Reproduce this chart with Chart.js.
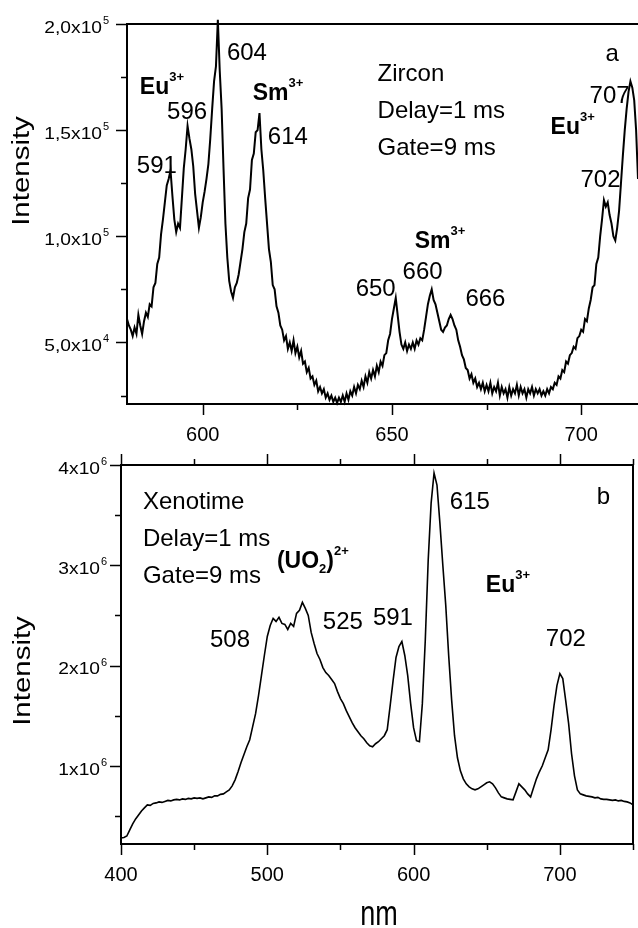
<!DOCTYPE html>
<html>
<head>
<meta charset="utf-8">
<script src="https://cdn.jsdelivr.net/npm/chart.js@4.4.0/dist/chart.umd.min.js"></script>
<style>
  html, body { margin: 0; padding: 0; background: #fff; }
  #wrap { position: relative; width: 638px; height: 928px; overflow: hidden; }
  canvas { position: absolute; left: 0; }
  #zircon { top: 0; }
  #xenotime { top: 440px; }
</style>
</head>
<body>
<div id="wrap">
  <canvas id="zircon" width="638" height="460"></canvas>
  <canvas id="xenotime" width="638" height="488"></canvas>
</div>
<script>
// Panel a - zircon, one reading every 0.5 nm starting at 580 nm, intensity in 10^3
const zirconStart = 580;
const zirconStep = 0.5;
const zirconIntensity = [
    61, 58, 56, 53, 57, 54, 63, 58, 54, 60,               // 580
    64, 62, 68, 67, 76, 78, 87, 90, 101, 108,             // 585
    116, 124, 127, 131, 119, 108, 102, 106, 104, 118,     // 590
    132, 141, 152, 146, 141, 133, 120, 112, 104, 109,     // 595
    116, 121, 127, 134, 146, 160, 173, 180, 202, 178,     // 600
    160, 132, 106, 90, 79, 74, 71, 76, 78, 82,            // 605
    88, 94, 102, 106, 118, 122, 136, 139, 149, 150,       // 610
    158, 141, 131, 118, 106, 94, 88, 77, 75, 67,          // 615
    64, 58, 56, 51, 53, 47, 50, 46, 51, 45,               // 620
    48, 43, 46, 40, 41, 36, 38, 33, 34, 30,               // 625
    32, 27, 29, 26, 28, 24, 26, 23, 25, 22,               // 630
    24, 21.5, 24, 22, 25, 22, 26, 23, 27, 25,             // 635
    29, 26, 30, 28, 32, 29, 34, 31, 36, 33,               // 640
    37, 34, 39, 36, 41, 39, 44, 45, 51, 54,               // 645
    61, 66, 71, 63, 55, 49, 47, 50, 46, 49,               // 650
    47, 50, 47, 51, 49, 52, 51, 56, 62, 68,               // 655
    72, 75, 70, 68, 64, 60, 56, 55, 57, 58,               // 660
    61, 63, 61, 58, 56, 51, 48, 44, 42, 38,               // 665
    37, 33, 35, 31, 33, 29, 31, 28, 31, 27,               // 670
    30, 27, 31, 26, 29, 27, 31, 25, 29, 26,               // 675
    28, 24, 29, 25, 28, 26, 30, 25, 29, 26,               // 680
    28, 24, 28, 26, 29, 25, 28, 26, 28, 25,               // 685
    27, 25, 28, 26, 29, 28, 31, 30, 34, 33,               // 690
    37, 36, 41, 40, 44, 45, 48, 47, 52, 53,               // 695
    56, 55, 61, 60, 66, 70, 76, 77, 87, 90,               // 700
    100, 108, 117, 114, 116, 110, 106, 100, 98, 104,      // 705
    112, 125, 138, 150, 160, 168, 173, 170, 164, 150,     // 710
    127
];

// Panel b - xenotime, one reading every 2 nm starting at 400 nm, intensity in 10^6
const xenotimeStart = 400;
const xenotimeStep = 2;
const xenotimeIntensity = [
    0.28, 0.285, 0.30, 0.36, 0.42, 0.47, 0.51, 0.55, 0.58, 0.61,        // 400-418
    0.605, 0.625, 0.63, 0.64, 0.635, 0.645, 0.655, 0.65, 0.66, 0.665,
    0.66, 0.67, 0.665, 0.675, 0.67, 0.68, 0.675, 0.68, 0.67, 0.68,      // 440-458
    0.69, 0.685, 0.70, 0.70, 0.715, 0.72, 0.74, 0.76, 0.80, 0.86,
    0.94, 1.03, 1.11, 1.19, 1.26, 1.39, 1.52, 1.70, 1.90, 2.10,         // 480-498
    2.29, 2.40, 2.47, 2.44, 2.48, 2.42, 2.41, 2.36, 2.42, 2.39,
    2.52, 2.55, 2.63, 2.57, 2.50, 2.33, 2.22, 2.12, 2.06, 1.98,         // 520-538
    1.93, 1.90, 1.86, 1.82, 1.74, 1.67, 1.62, 1.55, 1.49, 1.43,
    1.38, 1.34, 1.30, 1.27, 1.23, 1.20, 1.19, 1.22, 1.24, 1.27,         // 560-578
    1.30, 1.36, 1.60, 1.85, 2.08, 2.19, 2.24, 2.10, 1.90, 1.62,
    1.38, 1.25, 1.24, 1.62, 2.25, 3.05, 3.62, 3.92, 3.80, 3.42,         // 600-618
    3.00, 2.60, 2.10, 1.66, 1.30, 1.08, 0.95, 0.87, 0.82, 0.79,
    0.77, 0.76, 0.77, 0.79, 0.81, 0.83, 0.84, 0.82, 0.78, 0.73,         // 640-658
    0.69, 0.68, 0.67, 0.665, 0.66, 0.74, 0.82, 0.79, 0.76, 0.72,
    0.69, 0.78, 0.87, 0.94, 1.00, 1.08, 1.16, 1.36, 1.60, 1.80,         // 680-698
    1.92, 1.87, 1.65, 1.42, 1.12, 0.90, 0.76, 0.72, 0.71, 0.70,
    0.695, 0.69, 0.68, 0.685, 0.67, 0.665, 0.665, 0.66, 0.655, 0.66,    // 720-738
    0.65, 0.655, 0.645, 0.64, 0.63, 0.61
];

// axis ticks
const zirconXTicks = [600, 650, 700];
const zirconXMinor = [625, 675];
const zirconYTicks = [50, 100, 150, 200];
const zirconYMinor = [25, 75, 125, 175];
const zirconYTickText = ['5,0x10', '1,0x10', '1,5x10', '2,0x10'];
const zirconYTickExp = ['4', '5', '5', '5'];

const xenotimeXTicks = [400, 500, 600, 700];
const xenotimeXMinor = [450, 550, 650, 750];
const xenotimeYTicks = [1, 2, 3, 4];
const xenotimeYMinor = [0.5, 1.5, 2.5, 3.5];
const xenotimeYTickText = ['1x10', '2x10', '3x10', '4x10'];
const xenotimeYTickExp = ['6', '6', '6', '6'];

const FONT = '"Liberation Sans", Arial, Helvetica, sans-serif';
const NOTE = '24px ' + FONT;
const BOLD = 'bold 23px ' + FONT;
const SMALL = 'bold 13px ' + FONT;

function ion(name) {
    return [{ text: name, font: BOLD }, { text: '3+', font: SMALL, dy: -10 }];
}

// peak labels, placed in data coordinates (nm, intensity)
const zirconNotes = [
    { x: 583.4, y: 170.0, parts: ion('Eu') },
    { x: 590.6, y: 158.3, text: '596' },
    { x: 582.6, y: 133.0, text: '591' },
    { x: 606.4, y: 186.3, text: '604' },
    { x: 613.2, y: 167.2, parts: ion('Sm') },
    { x: 617.2, y: 146.5, text: '614' },
    { x: 646.2, y: 176.4, text: 'Zircon' },
    { x: 646.2, y: 159.0, text: 'Delay=1 ms' },
    { x: 646.2, y: 141.5, text: 'Gate=9 ms' },
    { x: 706.4, y: 185.5, text: 'a' },
    { x: 702.2, y: 166.0, text: '707' },
    { x: 691.9, y: 151.4, parts: ion('Eu') },
    { x: 699.8, y: 126.4, text: '702' },
    { x: 656.0, y: 97.4, parts: ion('Sm') },
    { x: 640.4, y: 75.0, text: '650' },
    { x: 652.8, y: 83.0, text: '660' },
    { x: 669.4, y: 70.3, text: '666' }
];

const xenotimeNotes = [
    { x: 415.0, y: 3.631, text: 'Xenotime' },
    { x: 415.0, y: 3.262, text: 'Delay=1 ms' },
    { x: 415.0, y: 2.893, text: 'Gate=9 ms' },
    { x: 506.6, y: 3.033, parts: [
        { text: '(UO', font: BOLD },
        { text: '2', font: SMALL, dy: 7 },
        { text: ')', font: BOLD },
        { text: '2+', font: SMALL, dy: -11 }
    ] },
    { x: 460.8, y: 2.255, text: '508' },
    { x: 538.0, y: 2.435, text: '525' },
    { x: 572.2, y: 2.475, text: '591' },
    { x: 624.8, y: 3.631, text: '615' },
    { x: 725.3, y: 3.681, text: 'b' },
    { x: 649.4, y: 2.794, parts: ion('Eu') },
    { x: 690.4, y: 2.265, text: '702' }
];

function toPoints(start, step, values) {
    return values.map((v, i) => ({ x: start + i * step, y: v }));
}

// frame, tick marks, tick labels, axis titles and notes
const framePlugin = {
    id: 'frame',
    afterDraw(chart, args, o) {
        const ctx = chart.ctx;
        const a = chart.chartArea;
        const xs = chart.scales.x;
        const ys = chart.scales.y;
        ctx.save();
        ctx.strokeStyle = '#000';
        ctx.fillStyle = '#000';

        ctx.lineWidth = 2;
        ctx.beginPath();
        ctx.moveTo(a.right, a.top);
        ctx.lineTo(a.left, a.top);
        ctx.lineTo(a.left, a.bottom);
        ctx.lineTo(a.right, a.bottom);
        if (o.rightLine) ctx.lineTo(a.right, a.top);
        ctx.stroke();

        ctx.lineWidth = 1.5;
        ctx.beginPath();
        const xTick = (v, len) => {
            const px = Math.round(xs.getPixelForValue(v)) + 0.5;
            ctx.moveTo(px, a.bottom);
            ctx.lineTo(px, a.bottom + len);
            if (o.topTicks) {
                ctx.moveTo(px, a.top);
                ctx.lineTo(px, a.top - len);
            }
        };
        const yTick = (v, len) => {
            const py = Math.round(ys.getPixelForValue(v)) + 0.5;
            ctx.moveTo(a.left, py);
            ctx.lineTo(a.left - len, py);
        };
        o.xMajor.forEach(v => xTick(v, 11));
        o.xMinor.forEach(v => xTick(v, 6));
        o.yMajor.forEach(v => yTick(v, 11));
        o.yMinor.forEach(v => yTick(v, 6));
        ctx.stroke();

        // x tick labels
        ctx.font = '20px ' + FONT;
        ctx.textAlign = 'center';
        ctx.textBaseline = 'alphabetic';
        o.xMajor.forEach(v => {
            ctx.fillText(String(v), xs.getPixelForValue(v), a.bottom + 37);
        });

        // y tick labels with power of ten
        o.yMajor.forEach((v, i) => {
            const py = ys.getPixelForValue(v);
            ctx.save();
            ctx.translate(a.left - o.labelGap, py + 4.5);
            ctx.scale(1.2, 1);
            ctx.font = '16px ' + FONT;
            ctx.textAlign = 'right';
            ctx.textBaseline = 'middle';
            ctx.fillText(o.yText[i], 0, 0);
            ctx.restore();
            ctx.font = '11px ' + FONT;
            ctx.textAlign = 'left';
            ctx.textBaseline = 'middle';
            ctx.fillText(o.yExp[i], a.left - o.labelGap + 1, py - 3);
        });

        // y title, drawn a bit stretched like the original
        ctx.save();
        ctx.translate(o.yTitle.x + 6, o.yTitle.y);
        ctx.rotate(-Math.PI / 2);
        ctx.scale(1.28, 1);
        ctx.font = '23px ' + FONT;
        ctx.textAlign = 'center';
        ctx.textBaseline = 'alphabetic';
        ctx.fillText('Intensity', 0, 0);
        ctx.restore();

        if (o.xTitle) {
            ctx.save();
            ctx.translate(o.xTitle.x, o.xTitle.y);
            ctx.scale(1, 1.28);
            ctx.font = '27px ' + FONT;
            ctx.textAlign = 'center';
            ctx.textBaseline = 'alphabetic';
            ctx.fillText('nm', 0, 0);
            ctx.restore();
        }

        // peak labels
        ctx.textAlign = 'left';
        ctx.textBaseline = 'middle';
        o.notes.forEach(n => {
            let px = xs.getPixelForValue(n.x);
            const py = ys.getPixelForValue(n.y);
            const parts = n.parts || [{ text: n.text, font: NOTE }];
            parts.forEach(p => {
                ctx.font = p.font;
                ctx.fillText(p.text, px, py + (p.dy || 0));
                px += ctx.measureText(p.text).width;
            });
        });
        ctx.restore();
    }
};

function makePanel(id, cfg) {
    new Chart(document.getElementById(id), {
        type: 'line',
        data: {
            datasets: [{
                data: cfg.points,
                borderColor: '#000',
                borderWidth: cfg.lineWidth,
                pointRadius: 0,
                tension: 0,
                fill: false,
                clip: false
            }]
        },
        options: {
            responsive: false,
            animation: false,
            devicePixelRatio: 1,
            parsing: false,
            layout: { autoPadding: false, padding: cfg.padding },
            plugins: {
                legend: { display: false },
                tooltip: { enabled: false },
                frame: cfg.frame
            },
            scales: {
                x: {
                    type: 'linear',
                    min: cfg.xMin,
                    max: cfg.xMax,
                    ticks: { display: false },
                    grid: { display: false },
                    border: { display: false },
                    afterFit: s => { s.height = cfg.xHeight; }
                },
                y: {
                    type: 'linear',
                    min: cfg.yMin,
                    max: cfg.yMax,
                    ticks: { display: false },
                    grid: { display: false },
                    border: { display: false },
                    afterFit: s => { s.width = cfg.yWidth; }
                }
            }
        },
        plugins: [framePlugin]
    });
}

makePanel('zircon', {
    points: toPoints(zirconStart, zirconStep, zirconIntensity),
    lineWidth: 2,
    padding: { top: 24, right: 0, bottom: 0, left: 0 },
    xMin: 580, xMax: 715, yMin: 21, yMax: 200,
    xHeight: 56, yWidth: 127,
    frame: {
        rightLine: false, topTicks: false, labelGap: 25,
        xMajor: zirconXTicks, xMinor: zirconXMinor,
        yMajor: zirconYTicks, yMinor: zirconYMinor,
        yText: zirconYTickText, yExp: zirconYTickExp,
        yTitle: { x: 23, y: 171 },
        notes: zirconNotes
    }
});

makePanel('xenotime', {
    points: toPoints(xenotimeStart, xenotimeStep, xenotimeIntensity),
    lineWidth: 1.6,
    padding: { top: 25, right: 5, bottom: 0, left: 0 },
    xMin: 400, xMax: 750, yMin: 0.22, yMax: 4,
    xHeight: 84, yWidth: 121,
    frame: {
        rightLine: true, topTicks: true, labelGap: 21,
        xMajor: xenotimeXTicks, xMinor: xenotimeXMinor,
        yMajor: xenotimeYTicks, yMinor: xenotimeYMinor,
        yText: xenotimeYTickText, yExp: xenotimeYTickExp,
        yTitle: { x: 24, y: 231 },
        xTitle: { x: 379, y: 485 },
        notes: xenotimeNotes
    }
});
</script>
</body>
</html>
